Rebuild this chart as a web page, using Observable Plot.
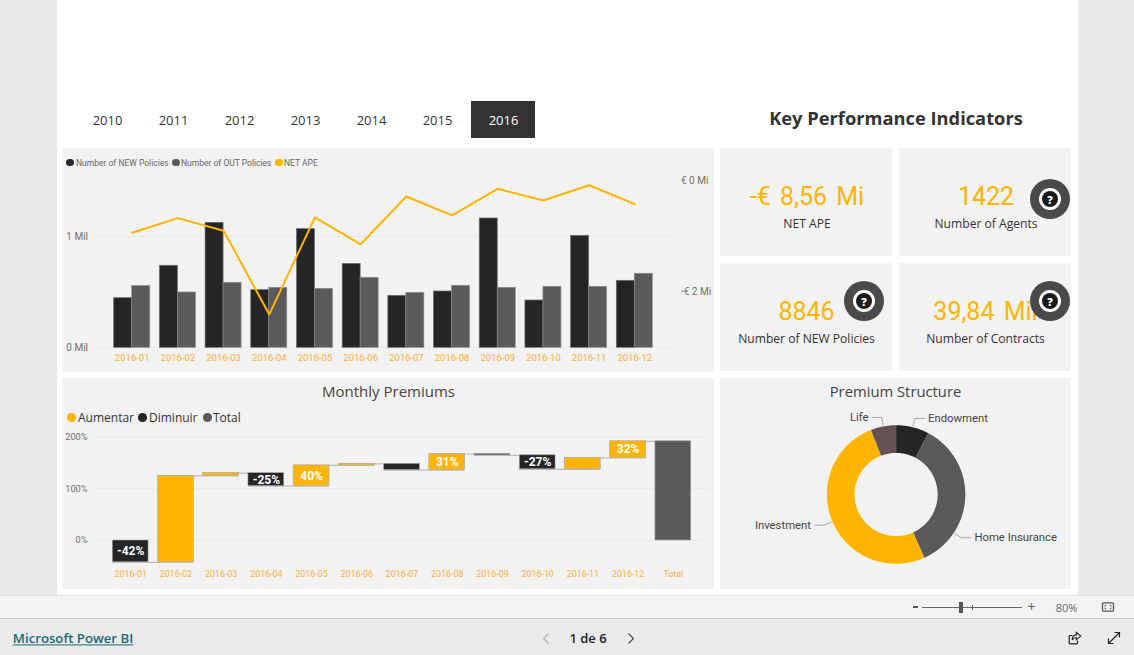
<!DOCTYPE html>
<html><head><meta charset="utf-8">
<script src="https://cdn.jsdelivr.net/npm/d3@7"></script>
<script src="https://cdn.jsdelivr.net/npm/@observablehq/plot@0.6"></script>
<style>
html,body{margin:0;padding:0;width:1134px;height:655px;overflow:hidden;background:#e9e9e9;font-family:"Open Sans",sans-serif}
.a{position:absolute}
.t{position:absolute;white-space:nowrap;line-height:1;transform:translate(-50%,-50%)}
.p{position:absolute;background:#f2f2f2}
.din{font-family:Roboto,sans-serif}
.sw{position:absolute;border-radius:50%}
svg.a{overflow:visible}
</style></head><body>
<div id="root"></div>
<script>
// ---------- data ----------
const years = ["2010","2011","2012","2013","2014","2015","2016"];
const selectedYear = "2016";
const months = ["2016-01","2016-02","2016-03","2016-04","2016-05","2016-06","2016-07","2016-08","2016-09","2016-10","2016-11","2016-12"];
const newPolicies = [0.446,0.737,1.123,0.518,1.066,0.754,0.467,0.506,1.162,0.425,1.006,0.602]; // Mil
const outPolicies = [0.554,0.497,0.584,0.539,0.530,0.629,0.494,0.557,0.539,0.548,0.548,0.665]; // Mil
const netApe = [-0.931,-0.670,-0.895,-2.400,-0.657,-1.140,-0.281,-0.621,-0.143,-0.353,-0.079,-0.419]; // € Mi
const premiumDeltas = [-42,166.8,5,-25,40,3,-12,31,-2.5,-27,22,32];
const premiumLabels = ["-42%","","","-25%","40%","","","31%","","-27%","","32%"];
const donutNames = ["Endowment","Home Insurance","Investment","Life"];
const donutShares = [7.7,35.6,50.8,5.9];
const kpiValues = ["-€ 8,56 Mi","1422","8846","39,84 Mil"];
const kpiNames = ["NET APE","Number of Agents","Number of NEW Policies","Number of Contracts"];

// ---------- palette ----------
const AMBER="#ffb400", DARK="#252525", GREY="#5a5a5a", TICK="#f9b03c", AXIS="#6f6f6f", GRID="#e9e9e9";
const DIN="Roboto,sans-serif";

// ---------- html helpers ----------
const root=document.getElementById("root");
function box(cls,x,y,w,h,css){const d=document.createElement("div");d.className=cls;d.style.cssText=`left:${x}px;top:${y}px;width:${w}px;height:${h}px;${css||""}`;root.appendChild(d);return d;}
function txt(s,x,y,css,cls){const d=document.createElement("div");d.className="t "+(cls||"");d.textContent=s;d.style.cssText=`left:${x}px;top:${y}px;${css||""}`;root.appendChild(d);return d;}
function put(svg,x,y){svg.classList.add("a");svg.style.left=x+"px";svg.style.top=y+"px";svg.style.background="transparent";root.appendChild(svg);}
function icon(x,y,w,h,inner){const d=document.createElement("div");d.className="a";d.style.cssText=`left:${x}px;top:${y}px;width:${w}px;height:${h}px`;d.innerHTML=`<svg width="${w}" height="${h}" viewBox="0 0 ${w} ${h}" style="display:block">${inner}</svg>`;root.appendChild(d);}

// page
box("a",57,0,1021,595,"background:#fff");
[[62,148,652,224],[720,148,172,108],[899,148,172,108],[720,263,172,108],[899,263,172,108],[62,378,652,211],[720,378,351,211]]
  .forEach(r=>box("p",...r));

// slicer
years.forEach((y,i)=>{
  const cx=107.5+i*66;
  if(y===selectedYear) box("a",471,101,64,37,"background:#333");
  txt(y,cx,120,`font-size:13px;color:${y===selectedYear?"#fff":"#333"}`);
});
txt("Key Performance Indicators",896,118,"font-size:18.3px;font-weight:700;color:#333");

// KPI cards
const kpiCx=[807,986,806.5,985.5], kpiVy=[196,196,311,311], kpiLy=[223.5,223.5,338.5,338.5];
kpiValues.forEach((v,i)=>{
  txt(v,kpiCx[i],kpiVy[i],`font-size:25px;word-spacing:3px;color:${AMBER};`,"din");
  txt(kpiNames[i],kpiCx[i],kpiLy[i],"font-size:12.1px;color:#333");
});
[[1050,199],[864,301],[1050,301]].forEach(([x,y])=>{
  box("a",x-20,y-20,40,40,"background:#4a4a4a;border-radius:50%");
  box("a",x-11,y-11,22,22,"background:#fff;border-radius:50%");
  box("a",x-8,y-8,16,16,"background:#1a1a1a;border-radius:50%");
  txt("?",x,y,"font-size:11px;font-weight:800;color:#fff");
});

// legends
function legend(items,y,size,r,color,family){
  items.forEach(([s,c,sx,tx])=>{
    box("sw",sx-r,y-r,2*r,2*r,`background:${c}`);
    txt(s,tx,y,`font-size:${size}px;color:${color};font-family:${family};transform:translate(0,-50%)`);
  });
}
legend([["Number of NEW Policies",DARK,70,76],["Number of OUT Policies",GREY,176,181],["NET APE",AMBER,279,284]],162.5,8.5,3.6,"#666",DIN);
legend([["Aumentar",AMBER,71.5,78],["Diminuir",DARK,142.5,149],["Total",GREY,207.5,213]],417.5,12,4.3,"#333",'"Open Sans",sans-serif');

txt("Monthly Premiums",388.5,390.5,"font-size:15px;color:#444");
txt("Premium Structure",895.5,390.5,"font-size:14.8px;color:#444");

// ---------- combo chart ----------
const apeToLeft = v => 1.5 + v/2;   // € Mi secondary axis sits on the Mil scale
const newRows = months.map((m,i)=>({m,v:newPolicies[i]}));
const outRows = months.map((m,i)=>({m,v:outPolicies[i]}));
const apeRows = months.map((m,i)=>({m,v:apeToLeft(netApe[i])}));
put(Plot.plot({
  width:652,height:224,marginLeft:32.5,marginRight:42.5,marginTop:10,marginBottom:24.7,
  style:{fontFamily:DIN,background:"transparent"},
  x:{domain:months,paddingInner:0.212,paddingOuter:0.42,round:false,label:null},
  y:{domain:[0,1.701],label:null},
  marks:[
    Plot.ruleY([0,1],{stroke:GRID}),
    Plot.barY(newRows,{x:"m",y:"v",fill:DARK,stroke:"#6e6e6e",strokeWidth:.7,insetRight:18}),
    Plot.barY(outRows,{x:"m",y:"v",fill:GREY,stroke:"#8c8c8c",strokeWidth:.7,insetLeft:18}),
    Plot.axisX({tickSize:0,tickPadding:6,fontSize:9.5,color:TICK,label:null}),
    Plot.axisY({ticks:[0,1],tickFormat:d=>d+" Mil",tickSize:0,tickPadding:7,fontSize:10,color:AXIS,label:null}),
    Plot.axisY({anchor:"right",ticks:[apeToLeft(-2),apeToLeft(0)],tickFormat:d=>d>1?"€ 0 Mi":"-€ 2 Mi",tickSize:0,tickPadding:9,fontSize:10,color:AXIS,label:null}),
    Plot.line(apeRows,{x:"m",y:"v",stroke:AMBER,strokeWidth:2,curve:"linear"})
  ]
}),62,148);

// ---------- waterfall ----------
let run=0;
const steps=months.map((m,i)=>{const y1=run;run+=premiumDeltas[i];return {m,y1,y2:run,kind:premiumDeltas[i]>=0?"up":"down",label:premiumLabels[i]};});
steps.push({m:"Total",y1:0,y2:run,kind:"total",label:""});
const links=steps.slice(0,-1).map((s,i)=>({a:s.m,b:steps[i+1].m,y:s.y2}));
const wfCats=[...months,"Total"];
put(Plot.plot({
  width:652,height:211,marginLeft:32,marginRight:5,marginTop:50,marginBottom:24,
  style:{fontFamily:DIN,background:"transparent"},
  x:{domain:wfCats,paddingInner:0.208,paddingOuter:0.404,round:false,label:null},
  y:{domain:[-48.2,216],label:null},
  color:{domain:["up","down","total"],range:[AMBER,DARK,GREY]},
  marks:[
    Plot.ruleY([0,100,200],{stroke:GRID}),
    Plot.ruleY(links,{x1:"a",x2:"b",y:"y",stroke:"#bdbdbd",strokeWidth:1.2}),
    Plot.barY(steps,{x:"m",y1:"y1",y2:"y2",fill:"kind",stroke:"#a8a8a8",strokeWidth:.6}),
    Plot.text(steps.filter(d=>d.label),{x:"m",y:d=>(d.y1+d.y2)/2,text:"label",fill:"#fff",fontWeight:700,fontSize:12}),
    Plot.axisX({tickSize:0,tickPadding:5,fontSize:8.9,color:TICK,label:null}),
    Plot.axisY({ticks:[0,100,200],tickFormat:d=>d+"%",tickSize:0,tickPadding:7,fontSize:9.2,color:AXIS,label:null})
  ]
}),62,378);

// ---------- donut ----------
const INNER=0.6, OUTER=1, toRad=Math.PI/180;
const pie=d3.pie().sort(null)(donutShares);
const ring=[];
pie.forEach((s,k)=>{
  const n=Math.max(8,Math.round((s.endAngle-s.startAngle)/0.03));
  const pts=[];
  for(let i=0;i<=n;i++){const a=s.startAngle+(s.endAngle-s.startAngle)*i/n;pts.push([OUTER*Math.sin(a),OUTER*Math.cos(a)]);}
  for(let i=n;i>=0;i--){const a=s.startAngle+(s.endAngle-s.startAngle)*i/n;pts.push([INNER*Math.sin(a),INNER*Math.cos(a)]);}
  pts.forEach(p=>ring.push({name:donutNames[k],x:p[0],y:p[1]}));
});
const leaderAngle=[13.9,123.5,247,349.4];
const leaders=[],labels=[];
donutNames.forEach((name,i)=>{
  const a=leaderAngle[i]*toRad,s=Math.sin(a),c=Math.cos(a),dir=s>=0?1:-1;
  const ex=1.13*s,ey=1.13*c,tx=ex+dir*0.14;
  [[1.02*s,1.02*c],[ex,ey],[tx,ey]].forEach(p=>leaders.push({name,x:p[0],y:p[1]}));
  labels.push({name,x:tx+dir*0.05,y:ey,anchor:dir>0?"start":"end"});
});
put(Plot.plot({
  width:351,height:211,marginLeft:106.4,marginRight:106.2,marginTop:46.7,marginBottom:25.7,
  style:{fontFamily:DIN,background:"transparent"},
  x:{domain:[-1,1],axis:null},y:{domain:[-1,1],axis:null},
  color:{domain:donutNames,range:[DARK,GREY,AMBER,"#665252"]},
  marks:[
    Plot.line(ring,{x:"x",y:"y",z:"name",fill:"name",stroke:null,curve:"linear"}),
    Plot.line(leaders,{x:"x",y:"y",z:"name",stroke:"#aaa",strokeWidth:1,curve:"linear"}),
    Plot.text(labels.filter(d=>d.anchor==="start"),{x:"x",y:"y",text:"name",textAnchor:"start",fill:"#444",fontSize:11.3}),
    Plot.text(labels.filter(d=>d.anchor==="end"),{x:"x",y:"y",text:"name",textAnchor:"end",fill:"#444",fontSize:11.3})
  ]
}),720,378);

// ---------- viewer chrome ----------
box("a",0,595,1134,24,"background:#f3f3f3;border-top:1px solid #e0e0e0;border-bottom:1px solid #c8c8c8;box-sizing:border-box");
box("a",0,619,1134,36,"background:#eaeaea");
box("a",913,606,5,2,"background:#555");
box("a",922,606.5,100,1.5,"background:#666");
box("a",959,602,4,11,"background:#555");
box("a",972,605,1,5,"background:#666");
txt("+",1031.5,606.5,"font-size:14px;color:#555");
txt("80%",1066.5,606.5,"font-size:11px;color:#666");
icon(1101,602,14,10,'<rect x="1.5" y=".8" width="11" height="8.4" rx="1" fill="none" stroke="#555" stroke-width="1.3"/><path d="M4 3.2h1.3M4 3.2v1.2M10 3.2H8.7M10 3.2v1.2M4 6.8h1.3M4 6.8V5.6M10 6.8H8.7M10 6.8V5.6" stroke="#555" stroke-width=".9" fill="none"/>');
txt("Microsoft Power BI",73,639,"font-size:13.2px;font-weight:600;color:#186b74;text-decoration:underline");
txt("1 de 6",588,638,"font-size:13px;font-weight:600;color:#222");
icon(541,632,10,13,'<path d="M7.5 1.5L2.5 6.5l5 5" fill="none" stroke="#aaa" stroke-width="1.1"/>');
icon(626,632,10,13,'<path d="M2.5 1.5l5 5-5 5" fill="none" stroke="#444" stroke-width="1.1"/>');
icon(1068,631,14,14,'<path d="M9.5 9.5v2.3a1 1 0 0 1-1 1H2.2a1 1 0 0 1-1-1V5.5a1 1 0 0 1 1-1h2.3" fill="none" stroke="#222" stroke-width="1.2"/><path d="M8.3 1.5l4.5 3.6-4.5 3.6V6.8C6.2 6.6 4.9 7.5 4.2 9c0-2.8 1.6-4.8 4.1-5.1z" fill="none" stroke="#222" stroke-width="1.1"/>');
icon(1107,631,14,14,'<path d="M1.5 12.5L12.5 1.5M7.5 1.5h5v5M1.5 7.5v5h5" fill="none" stroke="#222" stroke-width="1.2"/>');
</script>
</body></html>
